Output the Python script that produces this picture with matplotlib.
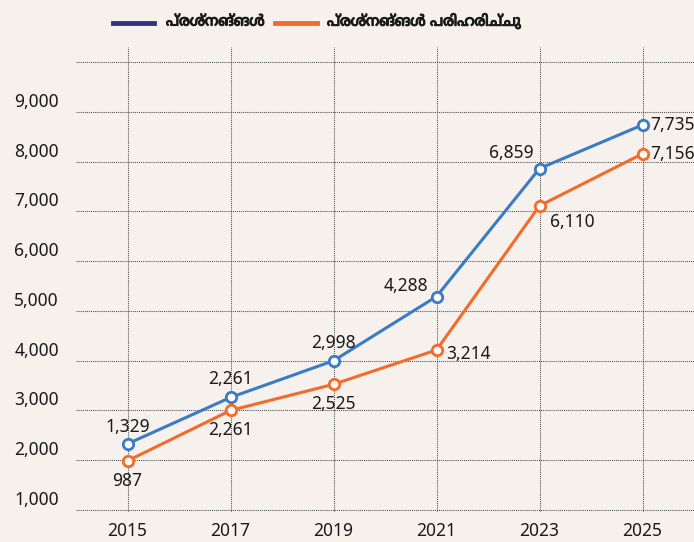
import matplotlib
matplotlib.use("Agg")
import matplotlib.pyplot as plt
import matplotlib.transforms as mtransforms
import matplotlib.patheffects as pe
from matplotlib.lines import Line2D

years = [2015, 2017, 2019, 2021, 2023, 2025]
questions = [1329, 2261, 2998, 4288, 6859, 7735]
solved = [987, 2000, 2525, 3214, 6110, 7156]
solved_labels = ["987", "2,261", "2,525", "3,214", "6,110", "7,156"]
question_labels = ["1,329", "2,261", "2,998", "4,288", "6,859", "7,735"]
y_grid = [0, 1000, 2000, 3000, 4000, 5000, 6000, 7000, 8000, 9000]
y_tick_labels = ["1,000", "2,000", "3,000", "4,000", "5,000", "6,000", "7,000", "8,000", "9,000"]
legend_labels = ["പ്രശ്നങ്ങൾ", "പ്രശ്നങ്ങൾ പരിഹരിച്ചു"]

BG = "#f6f1ed"
BLUE = "#3b7bc4"
ORANGE = "#f26b2b"
NAVY = "#2e3583"
TXT = "#1a1a1a"
NUMFONT = ["Noto Sans", "DejaVu Sans"]
MLFONT = ["Noto Sans Malayalam", "Noto Sans", "DejaVu Sans"]

fig = plt.figure(figsize=(6.94, 5.42), dpi=100, facecolor=BG)
ax = fig.add_axes([76 / 694, 30 / 542, 1 - 76 / 694, (512 - 47) / 542])
ax.set_facecolor(BG)
ax.set_xlim(2014, 2026)
ax.set_ylim(-40, 9300)
for s in ax.spines.values():
    s.set_visible(False)

ax.set_yticks(y_grid)
ax.set_yticklabels([])
ax.set_xticks(years)
ax.set_xticklabels([str(y) for y in years], fontsize=12.5, color=TXT, family=NUMFONT)
ax.tick_params(axis="both", length=0)
ax.tick_params(axis="x", pad=7)
ax.grid(True, color="#4d4d4d", linestyle=(0, (1, 1)), linewidth=0.75)
ax.set_axisbelow(True)

# y labels sit just above their gridlines
ytrans = mtransforms.blended_transform_factory(ax.transAxes, ax.transData)
ytrans = mtransforms.offset_copy(ytrans, fig=fig, x=-17, y=5, units="dots")
for i, lab in enumerate(y_tick_labels):
    ax.text(0, y_grid[i], lab, transform=ytrans, ha="right", va="baseline",
            fontsize=12.5, color=TXT, family=NUMFONT)

mk = dict(marker="o", markersize=7.5, markerfacecolor="white", markeredgewidth=2)
ax.plot(years, questions, color=BLUE, lw=2.2, markeredgecolor=BLUE, zorder=4, **mk)
ax.plot(years, solved, color=ORANGE, lw=2.2, markeredgecolor=ORANGE, zorder=4, **mk)

# label offsets in pixels (dx, dy, ha, va)
q_off = [(0, 8, "center", "bottom"), (0, 9, "center", "bottom"), (0, 9, "center", "bottom"),
         (-8, 2, "right", "bottom"), (-6, 7, "right", "bottom"), (8, 0, "left", "center")]
s_off = [(0, -11, "center", "top"), (0, -11, "center", "top"), (0, -11, "center", "top"),
         (10, -4, "left", "center"), (10, -7, "left", "top"), (8, 0, "left", "center")]
for x, y, lab, (dx, dy, ha, va) in zip(years, questions, question_labels, q_off):
    ax.annotate(lab, (x, y), xytext=(dx * 0.72, dy * 0.72), textcoords="offset points",
                ha=ha, va=va, fontsize=12.5, color=TXT, family=NUMFONT,
                annotation_clip=False, zorder=5)
for x, y, lab, (dx, dy, ha, va) in zip(years, solved, solved_labels, s_off):
    ax.annotate(lab, (x, y), xytext=(dx * 0.72, dy * 0.72), textcoords="offset points",
                ha=ha, va=va, fontsize=12.5, color=TXT, family=NUMFONT,
                annotation_clip=False, zorder=5)

# legend drawn at top
W, H = 694, 542
bold = [pe.withStroke(linewidth=0.8, foreground=TXT)]
fig.add_artist(Line2D([113 / W, 154 / W], [1 - 23 / H, 1 - 23 / H], color=NAVY, lw=3.5))
fig.text(166 / W, 1 - 22 / H, legend_labels[0], ha="left", va="center", fontsize=10.5,
         fontweight="bold", color=TXT, family=MLFONT, path_effects=bold)
fig.add_artist(Line2D([275 / W, 317 / W], [1 - 23 / H, 1 - 23 / H], color=ORANGE, lw=3.5))
fig.text(327 / W, 1 - 22 / H, legend_labels[1], ha="left", va="center", fontsize=10.5,
         fontweight="bold", color=TXT, family=MLFONT, path_effects=bold)

fig.savefig("out.png", dpi=100, facecolor=BG)
